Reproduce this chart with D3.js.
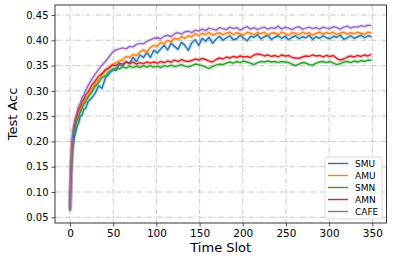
<!DOCTYPE html>
<html><head><meta charset="utf-8">
<script src="https://cdn.jsdelivr.net/npm/d3@7"></script>
<style>body{margin:0;background:#fff}svg{display:block}text{font-family:"DejaVu Sans",sans-serif;fill:#000}</style>
</head><body><svg id="c" width="394" height="260"></svg>
<script>
const timeSlots = [0,1,2,3,4,5,6,8,10,12,14,16,18,
21,25,29,33,37,41,45,49,53,57,
61,65,69,73,77,81,85,89,93,97,
101,105,109,113,117,121,125,129,133,137,
141,145,149,153,157,161,165,169,173,177,
181,185,189,193,197,201,205,209,213,217,
221,225,229,233,237,241,245,249,253,257,
261,265,269,273,277,281,285,289,293,297,
301,305,309,313,317,321,325,329,333,337,
341,345,349];

const seriesNames = ["SMU","AMU","SMN","AMN","CAFE"];
const seriesColors = ["#1f77b4","#ff7f0e","#2ca02c","#d62728","#9467bd"];

const smu = [0.062,0.12,0.158,0.186,0.197,0.209,0.214,0.229,0.237,0.25,0.252,0.264,0.265,
0.279,0.286,0.295,0.31,0.305,0.326,0.333,0.343,0.34,0.352,
0.35,0.358,0.355,0.366,0.358,0.371,0.366,0.376,0.366,0.38,
0.375,0.383,0.39,0.381,0.394,0.388,0.382,0.396,0.39,0.38,
0.395,0.401,0.39,0.404,0.398,0.406,0.394,0.402,0.408,0.4,
0.405,0.409,0.401,0.403,0.41,0.404,0.399,0.408,0.406,0.411,
0.403,0.407,0.41,0.402,0.406,0.409,0.404,0.408,0.401,0.406,
0.409,0.403,0.407,0.405,0.41,0.402,0.407,0.404,0.409,0.405,
0.403,0.408,0.406,0.41,0.402,0.405,0.409,0.404,0.407,0.41,
0.405,0.409,0.407];

const amu = [0.063,0.13,0.176,0.199,0.215,0.223,0.233,0.244,0.256,0.262,0.271,0.276,0.285,
0.291,0.302,0.314,0.321,0.332,0.34,0.346,0.352,0.356,0.359,
0.362,0.368,0.366,0.372,0.37,0.377,0.381,0.376,0.386,0.39,
0.388,0.396,0.393,0.4,0.397,0.404,0.402,0.407,0.404,0.409,
0.407,0.413,0.409,0.414,0.411,0.416,0.41,0.413,0.415,0.411,
0.414,0.416,0.411,0.415,0.413,0.41,0.416,0.414,0.411,0.415,
0.413,0.416,0.41,0.414,0.415,0.411,0.416,0.413,0.41,0.415,
0.414,0.411,0.416,0.413,0.415,0.41,0.414,0.416,0.412,0.415,
0.413,0.416,0.411,0.414,0.416,0.412,0.415,0.413,0.416,0.414,
0.412,0.416,0.415];

const smn = [0.065,0.13,0.171,0.196,0.209,0.221,0.227,0.241,0.249,0.259,0.265,0.274,0.278,
0.288,0.297,0.309,0.316,0.326,0.33,0.338,0.34,0.345,0.343,
0.348,0.345,0.349,0.346,0.349,0.346,0.35,0.347,0.35,0.347,
0.349,0.346,0.35,0.348,0.351,0.348,0.35,0.352,0.349,0.347,
0.35,0.353,0.352,0.35,0.347,0.344,0.348,0.351,0.353,0.352,
0.355,0.357,0.355,0.358,0.356,0.359,0.357,0.355,0.352,0.356,
0.358,0.357,0.359,0.357,0.358,0.356,0.358,0.357,0.356,0.353,
0.35,0.353,0.356,0.355,0.352,0.351,0.355,0.357,0.358,0.356,
0.358,0.355,0.352,0.354,0.357,0.358,0.356,0.359,0.357,0.36,
0.358,0.361,0.36];

const amn = [0.07,0.141,0.186,0.207,0.223,0.231,0.241,0.251,0.263,0.269,0.279,0.284,0.292,
0.298,0.311,0.319,0.329,0.334,0.342,0.345,0.351,0.35,0.355,
0.353,0.357,0.354,0.357,0.353,0.356,0.354,0.357,0.355,0.357,
0.355,0.358,0.356,0.359,0.357,0.361,0.358,0.362,0.359,0.358,
0.36,0.363,0.361,0.364,0.362,0.359,0.357,0.362,0.365,0.363,
0.367,0.365,0.368,0.366,0.369,0.367,0.368,0.366,0.371,0.373,
0.372,0.369,0.371,0.368,0.37,0.367,0.371,0.369,0.37,0.366,
0.365,0.364,0.367,0.369,0.368,0.371,0.369,0.37,0.367,0.37,
0.368,0.37,0.364,0.361,0.363,0.367,0.369,0.367,0.37,0.368,
0.371,0.369,0.372];

const cafe = [0.065,0.142,0.19,0.216,0.229,0.238,0.247,0.257,0.27,0.276,0.287,0.292,0.301,
0.311,0.322,0.333,0.342,0.351,0.358,0.367,0.376,0.381,0.383,
0.385,0.383,0.388,0.387,0.392,0.394,0.393,0.398,0.401,0.404,
0.405,0.403,0.408,0.41,0.407,0.413,0.415,0.412,0.417,0.418,
0.415,0.42,0.418,0.422,0.419,0.424,0.422,0.42,0.425,0.423,
0.421,0.426,0.423,0.425,0.42,0.424,0.427,0.422,0.425,0.421,
0.424,0.426,0.422,0.425,0.423,0.428,0.422,0.426,0.424,0.421,
0.425,0.427,0.422,0.424,0.426,0.423,0.425,0.422,0.426,0.424,
0.423,0.427,0.425,0.422,0.426,0.428,0.424,0.427,0.426,0.429,
0.427,0.43,0.429];

const seriesValues = [smu, amu, smn, amn, cafe];
const xTicks = [0,50,100,150,200,250,300,350];
const yTicks = [0.05,0.10,0.15,0.20,0.25,0.30,0.35,0.40,0.45];

const L = 55, R = 386.5, T = 5, B = 223;
const svg = d3.select("#c");
const x = d3.scaleLinear().domain([-17.45, 366.45]).range([L, R]);
const y = d3.scaleLinear().domain([0.0387, 0.4698]).range([B, T]);

// grid
const grid = svg.append("g").attr("stroke","#b8b8b8").attr("stroke-width",0.8).attr("stroke-dasharray","5,2,1.2,2");
grid.selectAll("line.gx").data(xTicks).join("line").attr("x1",d=>x(d)).attr("x2",d=>x(d)).attr("y1",T).attr("y2",B);
grid.selectAll("line.gy").data(yTicks).join("line").attr("y1",d=>y(d)).attr("y2",d=>y(d)).attr("x1",L).attr("x2",R);

// lines
const line = d3.line().x((d,i)=>x(timeSlots[i])).y(d=>y(d));
const lg = svg.append("g");
seriesValues.forEach((vals,k)=>{
  lg.append("path").attr("d",line(vals)).attr("fill","none").attr("stroke",seriesColors[k])
    .attr("stroke-width",4).attr("stroke-opacity",0.2).attr("stroke-linejoin","round");
});
seriesValues.forEach((vals,k)=>{
  lg.append("path").attr("d",line(vals)).attr("fill","none").attr("stroke",seriesColors[k])
    .attr("stroke-width",1.4).attr("stroke-linejoin","round");
});

// axes
const xa = svg.append("g").attr("transform",`translate(0,${B})`).call(d3.axisBottom(x).tickValues(xTicks).tickFormat(d3.format("d")).tickSize(3.5).tickPadding(3));
const ya = svg.append("g").attr("transform",`translate(${L},0)`).call(d3.axisLeft(y).tickValues(yTicks).tickFormat(d3.format(".2f")).tickSize(3.5).tickPadding(3));
[xa,ya].forEach(a=>{a.select(".domain").remove();a.selectAll("text").attr("font-family","DejaVu Sans").attr("font-size","10px").attr("fill","#000");a.selectAll("line").attr("stroke","#222").attr("stroke-width",0.8);});
xa.selectAll("text").attr("font-size","10.5px");

svg.append("rect").attr("x",L).attr("y",T).attr("width",R-L).attr("height",B-T).attr("fill","none").attr("stroke","#222").attr("stroke-width",0.9);

svg.append("text").attr("x",(L+R)/2).attr("y",251.5).attr("text-anchor","middle").attr("font-size","13px").text("Time Slot");
svg.append("text").attr("transform",`translate(17,${(T+B)/2}) rotate(-90)`).attr("text-anchor","middle").attr("font-size","13px").text("Test Acc");

// legend
const leg = svg.append("g");
leg.append("rect").attr("x",325).attr("y",157).attr("width",57).attr("height",62).attr("rx",2)
  .attr("fill","#fff").attr("fill-opacity",0.8).attr("stroke","#d0d0d0").attr("stroke-width",0.8);
seriesNames.forEach((n,i)=>{
  const yy = 163.5 + i*12;
  leg.append("line").attr("x1",328).attr("x2",348).attr("y1",yy).attr("y2",yy).attr("stroke",seriesColors[i]).attr("stroke-width",1.4);
  leg.append("text").attr("x",355).attr("y",yy+3.3).attr("font-size","9px").text(n);
});
</script></body></html>
